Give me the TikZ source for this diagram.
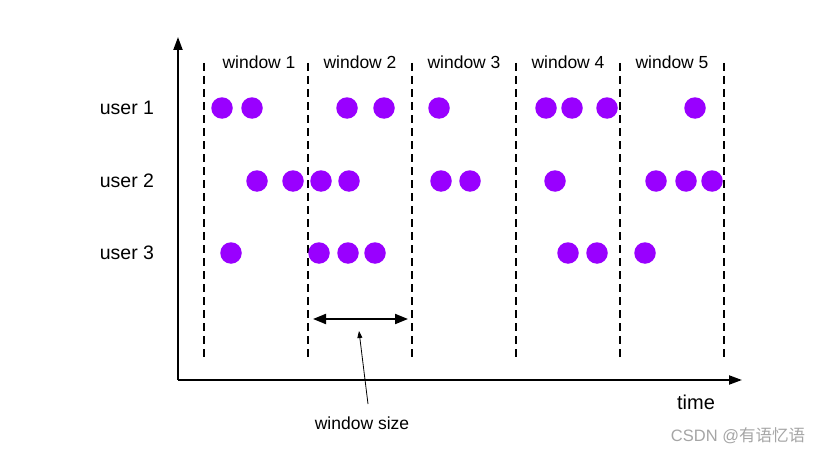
\documentclass[tikz,border=0pt]{standalone}
\usepackage{fontspec}
\setmainfont{Liberation Sans}
\newfontfamily\cjkfont{Noto Sans CJK SC}
\usetikzlibrary{arrows.meta, positioning, calc}
\definecolor{eventpurple}{RGB}{153,0,255}
\definecolor{markgray}{RGB}{165,165,165}

\begin{document}
\begin{tikzpicture}[
        x=1pt, y=-1pt,
        axis/.style={-{Triangle[length=13pt, width=9pt]}, line width=2pt},
        bound/.style={line width=2pt, dash pattern=on 8pt off 5pt},
        event/.style={circle, fill=eventpurple, inner sep=0pt, minimum size=21.5pt},
        winlabel/.style={anchor=base, font=\fontsize{17.5}{20}\selectfont},
        userlabel/.style={anchor=base, font=\fontsize{19.5}{22}\selectfont},
        span/.style={{Triangle[length=13pt, width=10pt]}-{Triangle[length=13pt, width=10pt]}, line width=2pt},
        pointer/.style={-{Triangle[length=7pt, width=5pt]}, line width=0.8pt}
    ]
        \useasboundingbox (0,0) rectangle (822,452);
        \coordinate (origin) at (178,380);
        \coordinate (ytop) at (178,37);
        \coordinate (xend) at (742,380);
        \draw[axis] (origin) -- (ytop);
        \draw[axis] (origin) -- (xend);
        \foreach \i/\x in {0/204, 1/308, 2/412, 3/516, 4/620, 5/724} {
            \coordinate (b\i top) at (\x,63);
            \coordinate (b\i bot) at (\x,361);
            \draw[bound] (b\i top) -- (b\i bot);
        }
        \node[winlabel] (win1) at (259,69) {window 1};
        \node[winlabel] (win2) at (360,69) {window 2};
        \node[winlabel] (win3) at (464,69) {window 3};
        \node[winlabel] (win4) at (568,69) {window 4};
        \node[winlabel] (win5) at (672,69) {window 5};
        \node[userlabel] (user1) at (127,114) {user 1};
        \node[userlabel] (user2) at (127,187) {user 2};
        \node[userlabel] (user3) at (127,259) {user 3};
        \foreach \x [count=\k] in {222, 252, 347, 384, 439, 546, 572, 607, 695}
            \node[event] (ua\k) at (\x,108) {};
        \foreach \x [count=\k] in {257, 293, 321, 349, 441, 470, 555, 656, 686, 712}
            \node[event] (ub\k) at (\x,181) {};
        \foreach \x [count=\k] in {231, 319, 348, 375, 568, 597, 645}
            \node[event] (uc\k) at (\x,253) {};
        \coordinate (sizel) at (313,319);
        \coordinate (sizer) at (408,319);
        \draw[span] (sizel) -- (sizer);
        \coordinate (sizemid) at (359,331);
        \node[winlabel] (wsize) at (362,429) {window size};
        \draw[pointer] (368,404) -- (sizemid);
        \node[anchor=base, font=\fontsize{20}{24}\selectfont] (time) at (696,409) {time};
        \node[anchor=base, text=markgray, font=\fontsize{16.5}{19}\selectfont] (mark) at (738,441) {CSDN @{\cjkfont 有语忆语}};
    \end{tikzpicture}
\end{document}
